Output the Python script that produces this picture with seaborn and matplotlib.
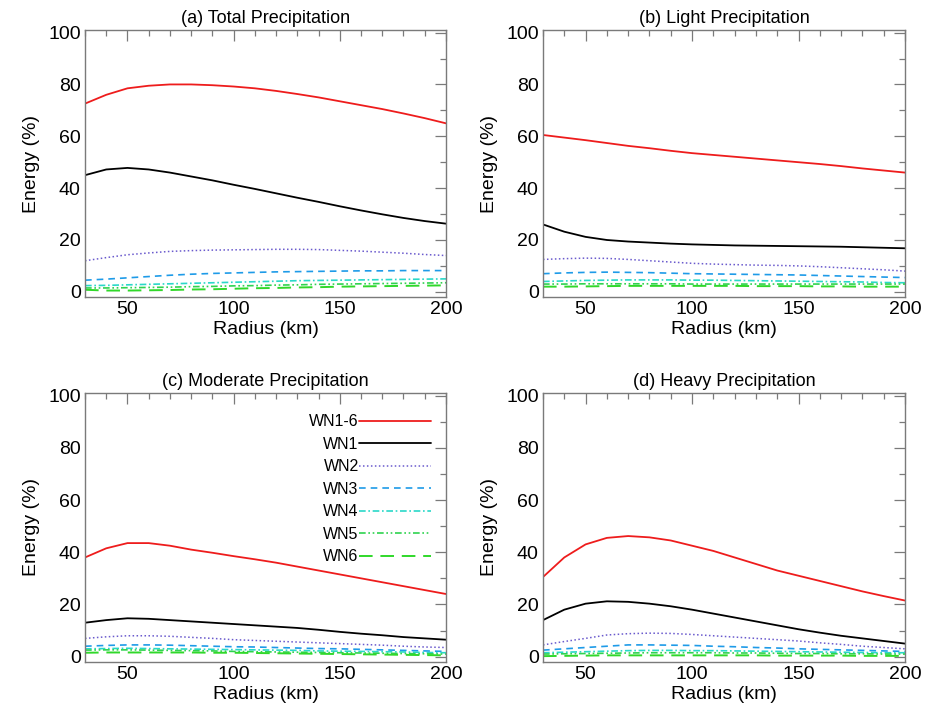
import numpy as np
import pandas as pd
import matplotlib
matplotlib.use("Agg")
import matplotlib.pyplot as plt
import seaborn as sns
from matplotlib.ticker import MultipleLocator

radius = [30, 40, 50, 60, 70, 80, 90, 100, 110, 120, 130, 140, 150, 160, 170, 180, 190, 200]
series_names = ["WN1-6", "WN1", "WN2", "WN3", "WN4", "WN5", "WN6"]
panel_titles = ["(a) Total Precipitation", "(b) Light Precipitation",
                "(c) Moderate Precipitation", "(d) Heavy Precipitation"]

# (a) Total
wn16_a = [72.6, 76.0, 78.5, 79.5, 80.0, 80.0, 79.7, 79.2, 78.5, 77.5, 76.3, 75.0, 73.5, 72.0, 70.5, 68.8, 67.0, 65.0]
wn1_a = [45.0, 47.2, 47.8, 47.2, 46.0, 44.5, 43.0, 41.3, 39.7, 38.0, 36.3, 34.7, 33.0, 31.4, 29.9, 28.5, 27.3, 26.3]
wn2_a = [12.0, 13.2, 14.3, 15.0, 15.6, 15.9, 16.1, 16.2, 16.3, 16.4, 16.4, 16.3, 16.0, 15.7, 15.3, 14.9, 14.4, 14.0]
wn3_a = [4.5, 4.9, 5.4, 5.9, 6.4, 6.8, 7.1, 7.3, 7.5, 7.7, 7.8, 7.9, 8.0, 8.1, 8.1, 8.2, 8.2, 8.2]
wn4_a = [2.4, 2.5, 2.7, 2.9, 3.1, 3.3, 3.5, 3.7, 3.9, 4.1, 4.3, 4.4, 4.5, 4.6, 4.7, 4.8, 4.9, 5.0]
wn5_a = [1.5, 1.5, 1.6, 1.7, 1.8, 2.0, 2.1, 2.3, 2.4, 2.6, 2.7, 2.9, 3.0, 3.1, 3.2, 3.3, 3.4, 3.5]
wn6_a = [0.8, 0.5, 0.5, 0.6, 0.7, 0.9, 1.0, 1.2, 1.4, 1.5, 1.7, 1.8, 2.0, 2.1, 2.2, 2.3, 2.4, 2.5]

# (b) Light
wn16_b = [60.5, 59.5, 58.5, 57.4, 56.3, 55.4, 54.4, 53.5, 52.8, 52.1, 51.4, 50.7, 50.0, 49.3, 48.5, 47.6, 46.8, 46.0]
wn1_b = [26.0, 23.2, 21.2, 20.0, 19.4, 19.0, 18.6, 18.3, 18.1, 17.9, 17.8, 17.7, 17.6, 17.5, 17.4, 17.2, 17.0, 16.8]
wn2_b = [12.5, 12.8, 13.0, 12.9, 12.5, 12.0, 11.5, 11.0, 10.7, 10.5, 10.3, 10.2, 10.0, 9.7, 9.3, 8.9, 8.5, 8.0]
wn3_b = [7.0, 7.3, 7.5, 7.6, 7.5, 7.4, 7.2, 7.0, 6.9, 6.8, 6.7, 6.6, 6.5, 6.3, 6.1, 5.9, 5.7, 5.5]
wn4_b = [4.0, 4.2, 4.4, 4.5, 4.6, 4.6, 4.6, 4.5, 4.5, 4.4, 4.3, 4.2, 4.1, 4.0, 3.9, 3.8, 3.6, 3.5]
wn5_b = [3.0, 3.0, 3.1, 3.1, 3.1, 3.1, 3.1, 3.0, 3.0, 3.0, 3.0, 3.0, 3.0, 3.0, 3.0, 3.0, 3.0, 3.0]
wn6_b = [2.0, 2.0, 2.1, 2.2, 2.3, 2.3, 2.3, 2.3, 2.3, 2.3, 2.2, 2.2, 2.2, 2.1, 2.1, 2.0, 2.0, 2.0]

# (c) Moderate
wn16_c = [38.0, 41.5, 43.5, 43.5, 42.5, 41.0, 39.8, 38.5, 37.3, 36.0, 34.5, 33.0, 31.5, 30.0, 28.5, 27.0, 25.5, 24.0]
wn1_c = [13.0, 14.0, 14.7, 14.5, 14.0, 13.5, 13.0, 12.5, 12.0, 11.5, 11.0, 10.3, 9.5, 8.8, 8.2, 7.5, 7.0, 6.5]
wn2_c = [7.0, 7.6, 8.0, 8.0, 7.8, 7.4, 7.0, 6.5, 6.2, 5.9, 5.6, 5.3, 5.0, 4.7, 4.4, 4.0, 3.7, 3.5]
wn3_c = [4.0, 4.3, 4.5, 4.5, 4.4, 4.2, 4.0, 3.8, 3.7, 3.5, 3.3, 3.1, 3.0, 2.8, 2.6, 2.4, 2.2, 2.0]
wn4_c = [3.0, 3.1, 3.2, 3.1, 3.0, 2.9, 2.8, 2.7, 2.6, 2.5, 2.4, 2.2, 2.1, 2.0, 1.9, 1.8, 1.6, 1.5]
wn5_c = [2.5, 2.6, 2.6, 2.5, 2.4, 2.3, 2.2, 2.0, 1.9, 1.8, 1.7, 1.6, 1.5, 1.4, 1.3, 1.2, 1.1, 1.0]
wn6_c = [1.5, 1.6, 1.6, 1.6, 1.6, 1.6, 1.5, 1.5, 1.4, 1.3, 1.2, 1.1, 1.0, 0.9, 0.8, 0.7, 0.6, 0.5]

# (d) Heavy
wn16_d = [30.5, 38.0, 43.0, 45.5, 46.2, 45.7, 44.5, 42.5, 40.5, 38.0, 35.5, 33.0, 31.0, 29.0, 27.0, 25.0, 23.2, 21.5]
wn1_d = [14.0, 18.0, 20.3, 21.2, 21.0, 20.3, 19.3, 18.0, 16.5, 15.0, 13.5, 12.0, 10.5, 9.2, 8.0, 7.0, 6.0, 5.0]
wn2_d = [4.5, 5.8, 7.0, 8.3, 8.8, 9.0, 8.9, 8.5, 8.0, 7.5, 7.0, 6.5, 6.0, 5.3, 4.7, 4.0, 3.5, 3.0]
wn3_d = [2.5, 3.0, 3.5, 4.0, 4.5, 4.5, 4.4, 4.3, 4.0, 3.8, 3.5, 3.3, 3.0, 2.8, 2.6, 2.4, 2.2, 2.0]
wn4_d = [1.5, 1.7, 1.9, 2.1, 2.3, 2.4, 2.4, 2.3, 2.3, 2.2, 2.1, 2.0, 1.9, 1.8, 1.7, 1.6, 1.5, 1.5]
wn5_d = [1.0, 1.1, 1.2, 1.3, 1.4, 1.5, 1.5, 1.5, 1.5, 1.4, 1.4, 1.3, 1.2, 1.2, 1.1, 1.1, 1.0, 1.0]
wn6_d = [0.2, 0.3, 0.4, 0.5, 0.5, 0.5, 0.5, 0.5, 0.5, 0.5, 0.5, 0.4, 0.4, 0.4, 0.4, 0.3, 0.3, 0.3]

panels = [
    [wn16_a, wn1_a, wn2_a, wn3_a, wn4_a, wn5_a, wn6_a],
    [wn16_b, wn1_b, wn2_b, wn3_b, wn4_b, wn5_b, wn6_b],
    [wn16_c, wn1_c, wn2_c, wn3_c, wn4_c, wn5_c, wn6_c],
    [wn16_d, wn1_d, wn2_d, wn3_d, wn4_d, wn5_d, wn6_d],
]

palette = {"WN1-6": "#ee1c1c", "WN1": "#000000", "WN2": "#6a5acd", "WN3": "#1e9be8",
           "WN4": "#2ad8c8", "WN5": "#2fd34f", "WN6": "#30d82a"}
dashes = {"WN1-6": "", "WN1": "", "WN2": (1, 1.6), "WN3": (4, 3),
          "WN4": (4, 1.6, 1, 1.6), "WN5": (4, 1.6, 1, 1.6, 1, 1.6), "WN6": (7, 4)}
widths = {"WN1-6": 1.3, "WN1": 1.3, "WN2": 1.1, "WN3": 1.2, "WN4": 1.2, "WN5": 1.2, "WN6": 1.4}

sns.set_theme(style="white")
plt.rcParams["font.family"] = ["Liberation Sans", "DejaVu Sans"]
plt.rcParams["text.color"] = "black"
plt.rcParams["axes.labelcolor"] = "black"
plt.rcParams["xtick.labelcolor"] = "black"
plt.rcParams["ytick.labelcolor"] = "black"

fig = plt.figure(figsize=(9.32, 7.14), dpi=100)
positions = [
    [0.0912, 0.584, 0.3873, 0.374],
    [0.5826, 0.584, 0.3884, 0.374],
    [0.0912, 0.073, 0.3873, 0.3766],
    [0.5826, 0.073, 0.3884, 0.3766],
]
spine_col = "#7a7a7a"
for i, (pos, title, vals) in enumerate(zip(positions, panel_titles, panels)):
    ax = fig.add_axes(pos)
    df = pd.DataFrame({
        "Radius": np.tile(radius, len(series_names)),
        "Energy": np.concatenate(vals),
        "Series": np.repeat(series_names, len(radius)),
    })
    for name in series_names:
        sub = df[df["Series"] == name]
        kw = {}
        if dashes[name] != "":
            kw["dashes"] = dashes[name]
        sns.lineplot(data=sub, x="Radius", y="Energy", color=palette[name],
                     lw=widths[name], ax=ax, legend=False, label=name, **kw)
    ax.set_xlim(30, 200)
    ax.set_ylim(-2, 101)
    ax.xaxis.set_major_locator(MultipleLocator(50))
    ax.xaxis.set_minor_locator(MultipleLocator(10))
    ax.yaxis.set_major_locator(MultipleLocator(20))
    ax.yaxis.set_minor_locator(MultipleLocator(10))
    ax.set_yticks([0, 20, 40, 60, 80, 100])
    ax.tick_params(which="both", direction="in", top=True, right=True,
                   color=spine_col, width=0.9, labelcolor="black")
    ax.tick_params(which="major", length=8, labelsize=14, pad=3)
    ax.tick_params(which="minor", length=4)
    for s in ax.spines.values():
        s.set_color(spine_col)
        s.set_linewidth(1.0)
    ax.set_xlabel("Radius (km)", fontsize=14, labelpad=2, color="black")
    ax.set_ylabel("Energy (%)", fontsize=14, labelpad=6, color="black")
    ax.set_title(title, fontsize=13, pad=5, color="black")
    if i == 2:
        handles = ax.get_lines()[:len(series_names)]
        leg = ax.legend(handles, series_names, loc="upper right", frameon=False,
                        markerfirst=False, handlelength=4.5, fontsize=11.5,
                        labelspacing=0.47, handletextpad=0.0,
                        bbox_to_anchor=(0.975, 0.945), borderaxespad=0)
        for t in leg.get_texts():
            t.set_color("black")
    else:
        leg = ax.get_legend()
        if leg is not None:
            leg.remove()

fig.savefig("out.png", dpi=100)
